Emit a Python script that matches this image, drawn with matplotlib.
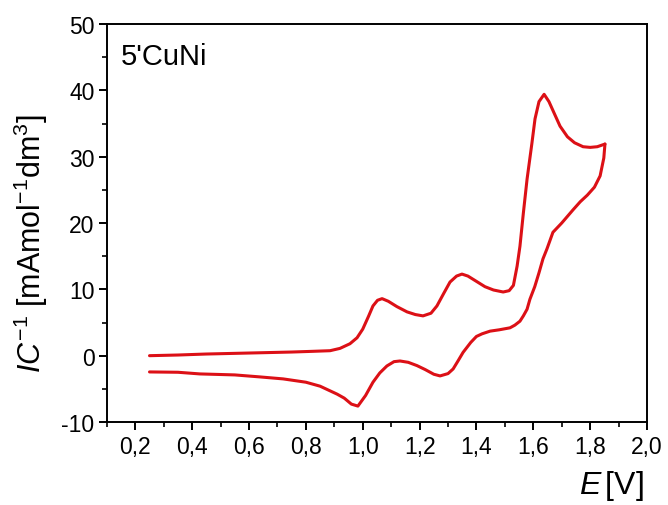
import numpy as np
import matplotlib
matplotlib.use("Agg")
import matplotlib.pyplot as plt
from matplotlib.ticker import MultipleLocator, FormatStrFormatter

plt.rcParams['font.family'] = ['Liberation Sans', 'DejaVu Sans']
plt.rcParams['mathtext.fontset'] = 'custom'
plt.rcParams['mathtext.rm'] = 'Liberation Sans'
plt.rcParams['mathtext.it'] = 'Liberation Sans:italic'

# forward (anodic) scan
E_fwd = [0.25, 0.35, 0.45, 0.55, 0.65, 0.75, 0.82, 0.885, 0.92, 0.955, 0.98, 1.0,
         1.02, 1.036, 1.052, 1.068, 1.09, 1.12, 1.156, 1.185, 1.212, 1.24, 1.261,
         1.285, 1.307, 1.33, 1.349, 1.37, 1.40, 1.43, 1.46, 1.494, 1.515, 1.53,
         1.543, 1.553, 1.565, 1.578, 1.595, 1.606, 1.62, 1.638, 1.655, 1.675,
         1.694, 1.72, 1.745, 1.775, 1.80, 1.825, 1.852]
I_fwd = [0.0, 0.1, 0.25, 0.35, 0.45, 0.55, 0.65, 0.75, 1.1, 1.8, 2.7, 4.0,
         5.9, 7.5, 8.35, 8.6, 8.2, 7.4, 6.6, 6.2, 6.0, 6.4, 7.5,
         9.4, 11.1, 12.0, 12.3, 12.0, 11.2, 10.4, 9.9, 9.6, 9.8, 10.6,
         13.5, 16.5, 21.5, 26.6, 32.0, 35.7, 38.3, 39.4, 38.3, 36.4,
         34.6, 33.0, 32.1, 31.5, 31.4, 31.5, 31.9]

# reverse (cathodic) scan
E_rev = [1.852, 1.848, 1.835, 1.815, 1.79, 1.765, 1.74, 1.70, 1.669, 1.648,
         1.634, 1.62, 1.605, 1.588, 1.578, 1.565, 1.553, 1.535, 1.518, 1.48,
         1.448, 1.42, 1.40, 1.38, 1.353, 1.335, 1.318, 1.30, 1.272, 1.25, 1.22,
         1.191, 1.16, 1.131, 1.11, 1.085, 1.06, 1.036, 1.01, 0.983, 0.96, 0.935,
         0.91, 0.885, 0.85, 0.80, 0.72, 0.638, 0.55, 0.427, 0.35, 0.25]
I_rev = [31.9, 29.8, 27.1, 25.4, 24.2, 23.2, 22.0, 20.0, 18.6, 16.1,
         14.6, 12.5, 10.4, 8.5, 7.0, 6.0, 5.2, 4.6, 4.2, 3.9,
         3.7, 3.3, 2.9, 2.0, 0.5, -0.8, -2.0, -2.7, -3.05, -2.8, -2.1,
         -1.5, -1.0, -0.8, -0.9, -1.55, -2.6, -4.0, -6.0, -7.6, -7.3, -6.4,
         -5.8, -5.3, -4.6, -4.0, -3.5, -3.2, -2.9, -2.75, -2.5, -2.45]

fig = plt.figure(figsize=(6.68, 5.06), dpi=100)
ax = fig.add_axes([0.160, 0.164, 0.8086, 0.7866])

ax.plot(E_fwd, I_fwd, color='#dc1016', lw=2.2, solid_joinstyle='round', solid_capstyle='round')
ax.plot(E_rev, I_rev, color='#dc1016', lw=2.2, solid_joinstyle='round', solid_capstyle='round')

ax.set_xlim(0.1, 2.0)
ax.set_ylim(-10, 50)
ax.xaxis.set_major_locator(MultipleLocator(0.2))
ax.xaxis.set_minor_locator(MultipleLocator(0.1))
ax.yaxis.set_major_locator(MultipleLocator(10))
ax.yaxis.set_minor_locator(MultipleLocator(5))
ax.xaxis.set_major_formatter(plt.FuncFormatter(lambda v, p: ('%.1f' % v).replace('.', ',')))
ax.yaxis.set_major_formatter(FormatStrFormatter('%d'))

for s in ax.spines.values():
    s.set_linewidth(1.4)
ax.tick_params(which='major', direction='out', length=6, width=1.4, labelsize=16.5, pad=3)
ax.tick_params(which='minor', direction='out', length=3.5, width=1.2)
ax.tick_params(top=False, right=False)

ax.text(0.025, 0.955, "5'CuNi", transform=ax.transAxes, fontsize=21, va='top', ha='left')

fig.text(0.963, 0.024, r'$E\,$[V]', fontsize=23, ha='right', va='baseline')
ax.set_ylabel(r'$IC^{-1}$ [mAmol$^{-1}$dm$^{3}$]', fontsize=22)
ax.yaxis.set_label_coords(-0.105, 0.45)

fig.savefig('out.png', dpi=100)
